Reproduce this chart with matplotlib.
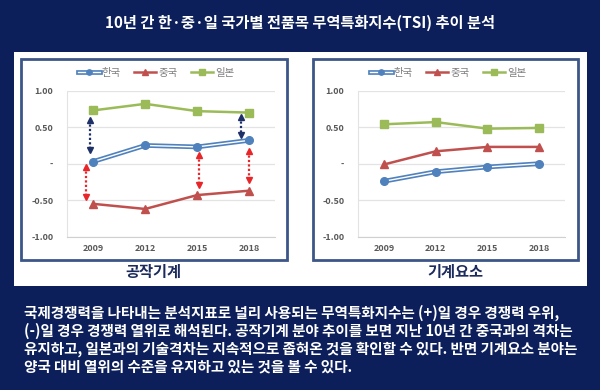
import matplotlib.pyplot as plt
import matplotlib.patheffects as pe
from matplotlib.patches import Rectangle

plt.rcParams['font.family'] = ['Noto Sans CJK KR', 'DejaVu Sans']

# data
years = ['2009', '2012', '2015', '2018']
series_names = ['한국', '중국', '일본']
machine_tools = {
    '한국': [0.03, 0.25, 0.23, 0.32],
    '중국': [-0.55, -0.62, -0.43, -0.37],
    '일본': [0.73, 0.82, 0.72, 0.70],
}
machine_parts = {
    '한국': [-0.24, -0.11, -0.045, 0.0],
    '중국': [-0.01, 0.17, 0.23, 0.23],
    '일본': [0.54, 0.57, 0.48, 0.49],
}
yticks = [1.0, 0.5, 0.0, -0.5, -1.0]
ytick_labels = ['1.00', '0.50', '-', '-0.50', '-1.00']

# gap arrows on the left chart: (x index, y start, y end, kind)
gap_arrows = [
    (-0.07, 0.60, 0.19, 'jp'),
    (2.85, 0.64, 0.40, 'jp'),
    (-0.14, -0.05, -0.46, 'cn'),
    (2.03, 0.12, -0.29, 'cn'),
    (3.0, 0.18, -0.22, 'cn'),
]

title = '10년 간 한·중·일 국가별 전품목 무역특화지수(TSI) 추이 분석'
chart_titles = ['공작기계', '기계요소']
body = ('국제경쟁력을 나타내는 분석지표로 널리 사용되는 무역특화지수는 (+)일 경우 경쟁력 우위,\n'
        '(-)일 경우 경쟁력 열위로 해석된다. 공작기계 분야 추이를 보면 지난 10년 간 중국과의 격차는\n'
        '유지하고, 일본과의 기술격차는 지속적으로 좁혀온 것을 확인할 수 있다. 반면 기계요소 분야는\n'
        '양국 대비 열위의 수준을 유지하고 있는 것을 볼 수 있다.')

navy = '#0c1f5a'
colors = {'한국': '#4f81bd', '중국': '#c0504d', '일본': '#9bbb59'}
markers = {'한국': 'o', '중국': '^', '일본': 's'}
sizes = {'한국': 5.5, '중국': 6, '일본': 6}
W, H = 600, 390

fig = plt.figure(figsize=(6, 3.9), dpi=100, facecolor=navy)

def fx(px):
    return px / W

def fy(py):
    return 1 - py / H

# white panel and chart boxes
fig.patches.append(Rectangle((fx(14), fy(286)), fx(573), 234 / H, transform=fig.transFigure,
                             facecolor='white', edgecolor='none', zorder=0))
for x0, x1 in [(21, 287), (313, 578)]:
    fig.patches.append(Rectangle((fx(x0), fy(260)), fx(x1 - x0), 201 / H, transform=fig.transFigure,
                                 facecolor='white', edgecolor='#3c5688', lw=2, zorder=1))

fig.text(0.5, fy(23), title, color='white', fontsize=11, fontweight='bold', ha='center', va='center')
fig.text(fx(153), fy(272), chart_titles[0], color='#1c2b5e', fontsize=11, fontweight='bold',
         ha='center', va='center')
fig.text(fx(455), fy(272), chart_titles[1], color='#1c2b5e', fontsize=11, fontweight='bold',
         ha='center', va='center')
fig.text(fx(24), fy(305), body, color='white', fontsize=10.5, fontweight='bold',
         ha='left', va='top', linespacing=1.12)

axes_px = [(67.3, 275), (358.3, 565)]
datasets = [machine_tools, machine_parts]
legend_centers = [156, 448]

for (x0, x1), data, lc in zip(axes_px, datasets, legend_centers):
    ax = fig.add_axes([fx(x0), fy(236.7), fx(x1 - x0), 146 / H], zorder=2)
    ax.set_facecolor('white')
    xs = range(len(years))
    handles = []
    for name in series_names:
        c = colors[name]
        if name == '한국':
            ln, = ax.plot(xs, data[name], color='white', lw=1.0, zorder=4,
                          path_effects=[pe.Stroke(linewidth=3.4, foreground=c), pe.Normal()])
            mk, = ax.plot(xs, data[name], ls='none', marker='o', ms=sizes[name],
                          mfc=c, mec=c, zorder=4)
            handles.append((ln, mk))
        else:
            h, = ax.plot(xs, data[name], color=c, lw=1.8, marker=markers[name],
                         ms=sizes[name], zorder=3)
            handles.append(h)
    ax.set_xlim(-0.5, 3.5)
    ax.set_ylim(-1.0, 1.0)
    ax.set_yticks(yticks)
    ax.set_yticklabels(ytick_labels)
    ax.set_xticks(list(xs))
    ax.set_xticklabels(years)
    ax.grid(axis='y', color='#e3e3e3', lw=0.9)
    ax.set_axisbelow(True)
    for s in ['top', 'right']:
        ax.spines[s].set_visible(False)
    ax.spines['left'].set_color('#e3e3e3')
    ax.spines['bottom'].set_color('#d0d0d0')
    ax.tick_params(length=0, labelsize=6.5, labelcolor='#595959')
    ax.tick_params(axis='x', pad=5)
    ax.tick_params(axis='y', pad=10)
    for lab in ax.get_xticklabels() + ax.get_yticklabels():
        lab.set_fontweight('bold')
    fig.legend(handles, series_names, loc='center', bbox_to_anchor=(fx(lc), fy(73)), ncol=3,
               frameon=False, fontsize=7.5, labelcolor='#7f7f7f', handlelength=2.1,
               columnspacing=1.3, handletextpad=0.2, markerscale=0.7)
    if data is machine_tools:
        for xi, ya, yb, kind in gap_arrows:
            ac = '#1f3068' if kind == 'jp' else '#e8262a'
            ax.plot([xi, xi], [ya, yb], color=ac, lw=1.6, ls=(0, (1, 1)), zorder=5)
            top_m = '^' if ya > yb else 'v'
            bot_m = 'v' if ya > yb else '^'
            ax.plot([xi], [ya], marker=top_m, color=ac, ms=4, zorder=5)
            ax.plot([xi], [yb], marker=bot_m, color=ac, ms=4, zorder=5)

fig.savefig('out.png', dpi=100, facecolor=navy)
